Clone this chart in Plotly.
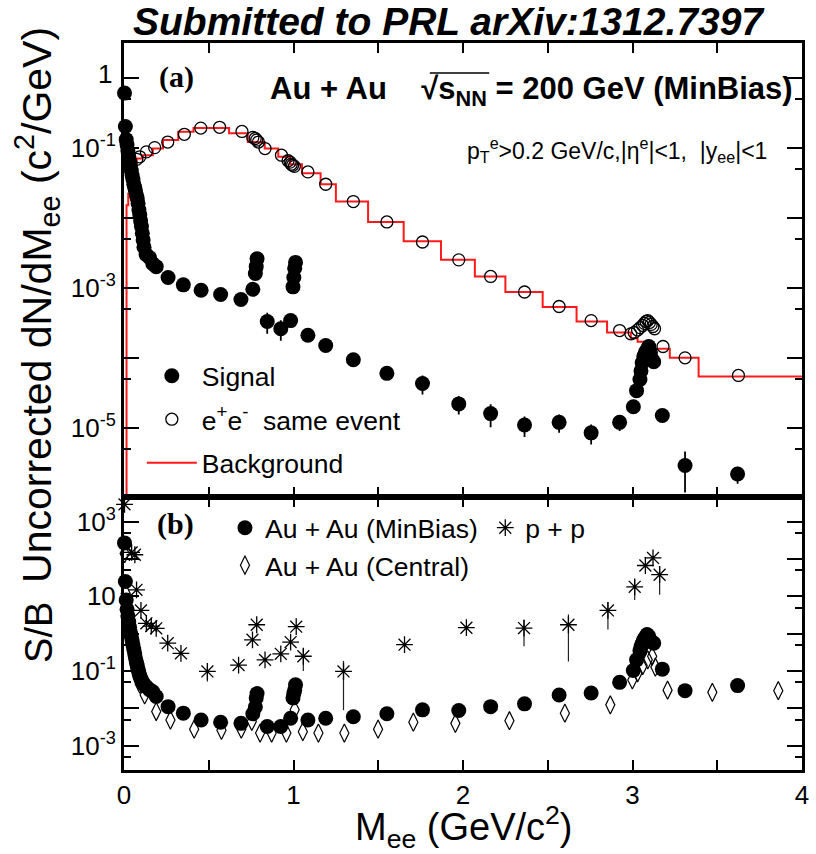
import plotly.graph_objects as go

# ---------------- data ----------------
# panel (a): signal (filled circles)
signal_mass = [0.003, 0.008, 0.013, 0.018, 0.023, 0.028, 0.033, 0.038, 0.043, 0.048,
               0.053, 0.058, 0.063, 0.068, 0.073, 0.078, 0.083, 0.088, 0.093, 0.098,
               0.103, 0.108, 0.113, 0.118, 0.13, 0.15, 0.17, 0.19, 0.26, 0.35,
               0.455, 0.57, 0.69, 0.76, 0.775, 0.78, 0.785, 0.845, 0.925, 0.983,
               0.997, 1.002, 1.007, 1.012, 1.085, 1.19, 1.353, 1.551, 1.761, 1.975,
               2.163, 2.363, 2.567, 2.756, 2.924, 3.005, 3.024, 3.044, 3.05, 3.057,
               3.067, 3.076, 3.086, 3.096, 3.106, 3.115, 3.125, 3.176, 3.31, 3.62]
signal_yield = [0.6, 0.2, 0.13, 0.11, 0.09, 0.075, 0.065, 0.055, 0.047, 0.04,
                0.035, 0.03, 0.027, 0.024, 0.021, 0.019, 0.016, 0.013, 0.011, 0.009,
                0.0075, 0.006, 0.0048, 0.0038, 0.003, 0.0027, 0.0022, 0.002, 0.0014, 0.0011,
                9.2e-4, 8e-4, 6.8e-4, 9.5e-4, 1.6e-3, 2.0e-3, 2.6e-3, 3.3e-4, 2.6e-4, 3.4e-4,
                1.03e-3, 1.4e-3, 1.9e-3, 2.3e-3, 2.1e-4, 1.5e-4, 9.4e-5, 6.0e-5, 4.3e-5, 2.2e-5,
                1.6e-5, 1.1e-5, 1.2e-5, 8.5e-6, 1.2e-5, 2.0e-5, 3.4e-5, 4.9e-5, 6.5e-5, 8.5e-5,
                1.05e-4, 1.2e-4, 1.3e-4, 1.45e-4, 1.2e-4, 9.5e-5, 8.8e-5, 1.5e-5, 2.9e-6, 2.2e-6]
signal_err = [0.0, 0.0, 0.0, 0.0, 0.0, 0.0, 0.0, 0.0, 0.0, 0.0,
              0.0, 0.0, 0.0, 0.0, 0.0, 0.0, 0.0, 0.0, 0.0, 0.0,
              0.0, 0.0, 0.0, 0.0, 0.0, 0.0, 0.0, 0.0, 0.0, 0.0,
              0.0, 0.0, 0.0, 0.0, 0.0, 0.0, 0.0, 1.1e-4, 8.5e-5, 6e-5,
              0.0, 0.0, 0.0, 0.0, 3e-5, 2.2e-5, 1.4e-5, 9e-6, 1.3e-5, 6.5e-6,
              5.8e-6, 3.6e-6, 3.5e-6, 2.7e-6, 3e-6, 3e-6, 3e-6, 4e-6, 5e-6, 6e-6,
              7e-6, 8e-6, 8e-6, 9e-6, 8e-6, 7e-6, 7e-6, 3e-6, 1.7e-6, 6e-7]

# panel (a): e+e- same event (open circles)
same_mass = [0.075, 0.093, 0.132, 0.181, 0.258, 0.356, 0.453, 0.564, 0.696, 0.76,
             0.774, 0.783, 0.793, 0.832, 0.929, 0.968, 0.98, 0.987, 0.995, 1.005,
             1.085, 1.19, 1.353, 1.551, 1.761, 1.975, 2.163, 2.363, 2.567, 2.756,
             2.924, 2.99, 3.01, 3.03, 3.045, 3.06, 3.07, 3.08, 3.09, 3.1,
             3.11, 3.12, 3.13, 3.18, 3.31, 3.625]
same_yield = [0.068, 0.074, 0.087, 0.10, 0.12, 0.155, 0.19, 0.195, 0.17, 0.14,
              0.135, 0.128, 0.12, 0.097, 0.078, 0.065, 0.062, 0.058, 0.056, 0.054,
              0.045, 0.030, 0.017, 0.0087, 0.0045, 0.0025, 0.00145, 8.7e-4, 5.4e-4, 3.4e-4,
              2.45e-4, 2.2e-4, 2.3e-4, 2.5e-4, 2.7e-4, 2.9e-4, 3.1e-4, 3.3e-4, 3.4e-4, 3.2e-4,
              3.0e-4, 2.8e-4, 2.6e-4, 1.45e-4, 1.0e-4, 5.6e-5]

# panel (a): background histogram (bin edges and contents)
bg_edges = [0, 0.015, 0.025, 0.035, 0.05, 0.075, 0.11, 0.17, 0.23, 0.32,
            0.41, 0.62, 0.73, 0.83, 0.91, 0.98, 1.05, 1.16, 1.25, 1.44,
            1.65, 1.87, 2.07, 2.25, 2.47, 2.67, 2.85, 2.99, 3.03, 3.08,
            3.12, 3.22, 3.39, 4.0]
bg_content = [1e-7, 0.015, 0.022, 0.05, 0.06, 0.07, 0.078, 0.097, 0.128, 0.168,
              0.19, 0.16, 0.12, 0.097, 0.074, 0.058, 0.043, 0.030, 0.017, 8.7e-3,
              4.6e-3, 2.5e-3, 1.45e-3, 8.7e-4, 5.3e-4, 3.3e-4, 2.3e-4, 1.9e-4, 1.7e-4, 1.5e-4,
              1.35e-4, 1.0e-4, 5.4e-5]

# panel (b): S/B Au+Au MinBias (same mass bins as the signal)
sb_minbias = [270, 25, 8, 4.5, 3, 2.1, 1.5, 1.1, 0.85, 0.65,
              0.5, 0.38, 0.29, 0.22, 0.17, 0.14, 0.11, 0.09, 0.075, 0.065,
              0.058, 0.052, 0.047, 0.043, 0.039, 0.032, 0.028, 0.021, 0.0112, 0.0075,
              0.0049, 0.0043, 0.0040, 0.0072, 0.011, 0.019, 0.025, 0.0033, 0.0033, 0.0055,
              0.019, 0.025, 0.031, 0.043, 0.0049, 0.0055, 0.006, 0.0072, 0.0092, 0.0088,
              0.0112, 0.0133, 0.023, 0.026, 0.05, 0.104, 0.2, 0.35, 0.45, 0.55,
              0.7, 0.8, 0.95, 0.85, 0.65, 0.6, 0.56, 0.113, 0.030, 0.041]

# panel (b): S/B Au+Au Central (open diamonds)
central_mass = [0.004, 0.01, 0.02, 0.03, 0.05, 0.07, 0.093, 0.122, 0.19, 0.274,
                0.414, 0.575, 0.692, 0.754, 0.803, 0.871, 0.958, 1.007, 1.055, 1.147,
                1.3, 1.499, 1.707, 1.955, 2.274, 2.601, 2.869, 2.999, 3.03, 3.06,
                3.09, 3.116, 3.135, 3.207, 3.471, 3.86]
sb_central = [140, 12, 2.5, 1.1, 0.35, 0.12, 0.045, 0.023, 0.0083, 0.0049,
              0.0028, 0.0026, 0.0028, 0.0045, 0.0022, 0.0022, 0.0022, 0.0092, 0.0024, 0.0022,
              0.0022, 0.0028, 0.0043, 0.0040, 0.0047, 0.0075, 0.0125, 0.058, 0.09, 0.14,
              0.2, 0.25, 0.128, 0.031, 0.027, 0.030]

# panel (b): S/B p+p (asterisks) with errors
pp_mass = [0.003, 0.045, 0.064, 0.074, 0.100, 0.132, 0.161, 0.19, 0.258, 0.336,
           0.492, 0.676, 0.758, 0.783, 0.832, 0.925, 0.983, 1.016, 1.058, 1.295,
           1.655, 2.02, 2.36, 2.622, 2.855, 3.013, 3.076, 3.121, 3.16]
sb_pp = [2900, 150, 130, 15, 4.2, 1.9, 1.6, 1.4, 0.56, 0.30,
         0.098, 0.145, 0.69, 1.74, 0.2, 0.29, 0.6, 1.55, 0.25, 0.098,
         0.51, 1.45, 1.42, 1.74, 4.2, 18, 67, 107, 38]
sb_pp_err = [0, 0, 0, 0, 0, 0, 0, 0, 0, 0,
             0.045, 0, 0, 0, 0, 0, 0, 0, 0.15, 0.089,
             0.1, 0.2, 0.96, 1.56, 2.9, 10, 0, 0, 27]

x_tick_vals = [0, 0.5, 1, 1.5, 2, 2.5, 3, 3.5, 4]
x_tick_text = ["0", "", "1", "", "2", "", "3", "", "4"]
ya_tick_vals = [1, 0.1, 0.01, 1e-3, 1e-4, 1e-5, 1e-6]
ya_tick_text = ["", "10<sup>-1</sup>", "", "10<sup>-3</sup>", "", "10<sup>-5</sup>", ""]
ya_top_label = "1"
ya_minor_vals = [0.5, 0.05, 0.005, 5e-4, 5e-5, 5e-6]
yb_tick_vals = [1e3, 1e2, 10, 1, 0.1, 0.01, 1e-3]
yb_tick_text = ["10<sup>3</sup>", "", "10", "", "10<sup>-1</sup>", "", "10<sup>-3</sup>"]
yb_minor_vals = [500, 50, 5, 0.5, 0.05, 5e-3, 5e-4]

# ---------------- layout geometry ----------------
W, H = 816, 854
L, R, T, B = 124, 7, 43, 84
PW, PH = W - L - R, H - T - B
SPLIT = (H - B - 496.5) / PH


def px(x):
    return (x - L) / PW


def py(y):
    return (H - B - y) / PH


FONT = "Liberation Sans, Arial, Helvetica, sans-serif"
LEG = 26.5

fig = go.Figure()

# background histogram (drawn first so markers sit on top)
fig.add_trace(go.Scatter(
    x=bg_edges, y=bg_content + [bg_content[-1]], mode="lines",
    line=dict(color="#ff1a1a", width=2, shape="hv"),
    name="Background", legendgroup="bg", legendrank=3,
    xaxis="x", yaxis="y", legend="legend"))

fig.add_trace(go.Scatter(
    x=same_mass, y=same_yield, mode="markers",
    marker=dict(symbol="circle-open", size=12, color="black", line=dict(width=1.3, color="black")),
    name="e<sup>+</sup>e<sup>-</sup>\u00a0\u00a0same event", legendgroup="se", legendrank=2,
    xaxis="x", yaxis="y", legend="legend", cliponaxis=False))

fig.add_trace(go.Scatter(
    x=signal_mass, y=signal_yield, mode="markers",
    marker=dict(symbol="circle", size=15, color="black"),
    error_y=dict(type="data", array=signal_err, visible=True, color="black", thickness=1.8, width=0),
    name="Signal", legendgroup="sig", legendrank=1,
    xaxis="x", yaxis="y", legend="legend", cliponaxis=False))

# panel (b)
fig.add_trace(go.Scatter(
    x=pp_mass, y=sb_pp, mode="markers",
    marker=dict(symbol="asterisk-open", size=14, color="black", line=dict(width=1.3, color="black")),
    error_y=dict(type="data", array=sb_pp_err, visible=True, color="#222222", thickness=1.2, width=0),
    name="p + p", legendgroup="pp",
    xaxis="x2", yaxis="y2", legend="legend3", cliponaxis=False))

fig.add_trace(go.Scatter(
    x=central_mass, y=sb_central, mode="markers",
    marker=dict(symbol="diamond-tall-open", size=13, color="black", line=dict(width=1.2, color="black")),
    name="Au + Au (Central)", legendgroup="ce", legendrank=2,
    xaxis="x2", yaxis="y2", legend="legend2", cliponaxis=False))

fig.add_trace(go.Scatter(
    x=signal_mass, y=sb_minbias, mode="markers",
    marker=dict(symbol="circle", size=15, color="black"),
    name="Au + Au (MinBias)", legendgroup="mb", legendrank=1,
    xaxis="x2", yaxis="y2", legend="legend2", cliponaxis=False))

axis_common = dict(showline=True, linecolor="black", linewidth=3, mirror="allticks",
                   ticks="inside", tickcolor="black", showgrid=False, zeroline=False,
                   tickfont=dict(family=FONT, size=26, color="black"))

fig.update_layout(
    width=W, height=H,
    margin=dict(l=L, r=R, t=T, b=B),
    paper_bgcolor="white", plot_bgcolor="white",
    font=dict(family=FONT, color="black"),
    xaxis=dict(domain=[0, 1], anchor="y", range=[0, 4], tickmode="array",
               tickvals=x_tick_vals, ticktext=x_tick_text, showticklabels=False,
               ticklen=10, tickwidth=1.5, **axis_common),
    yaxis=dict(domain=[SPLIT, 1], anchor="x", type="log", range=[-5.979, 0.493],
               tickmode="array", tickvals=ya_tick_vals, ticktext=ya_tick_text,
               ticklen=15, tickwidth=1.5,
               minor=dict(tickvals=ya_minor_vals, ticklen=7, tickwidth=1.5, ticks="inside",
                          tickcolor="black", showgrid=False),
               **axis_common),
    xaxis2=dict(domain=[0, 1], anchor="y2", range=[0, 4], tickmode="array",
                tickvals=x_tick_vals, ticktext=x_tick_text,
                ticklen=10, tickwidth=1.5, **axis_common),
    yaxis2=dict(domain=[0, SPLIT], anchor="x2", type="log", range=[-3.646, 3.673],
                tickmode="array", tickvals=yb_tick_vals, ticktext=yb_tick_text,
                ticklen=15, tickwidth=1.5,
                minor=dict(tickvals=yb_minor_vals, ticklen=7, tickwidth=1.5, ticks="inside",
                           tickcolor="black", showgrid=False),
                **axis_common),
    legend=dict(x=px(142), y=py(352), xanchor="left", yanchor="top", itemwidth=50,
                bgcolor="rgba(0,0,0,0)", borderwidth=0, traceorder="grouped",
                tracegroupgap=6, font=dict(family=FONT, size=LEG, color="black")),
    legend2=dict(x=px(226), y=py(504), xanchor="left", yanchor="top",
                 bgcolor="rgba(0,0,0,0)", borderwidth=0, traceorder="grouped",
                 tracegroupgap=0, font=dict(family=FONT, size=LEG, color="black")),
    legend3=dict(x=px(489), y=py(504), xanchor="left", yanchor="top",
                 bgcolor="rgba(0,0,0,0)", borderwidth=0,
                 font=dict(family=FONT, size=LEG, color="black")),
    showlegend=True,
)

ann = [
    dict(text="<b><i>Submitted to PRL arXiv:1312.7397</i></b>", x=px(452), y=py(21),
         font=dict(size=39, family=FONT)),
    dict(text=ya_top_label, x=px(114), y=py(74), xanchor="right",
         font=dict(size=26, family=FONT)),
    dict(text="<b>(a)</b>", x=px(177), y=py(77),
         font=dict(size=30, family="Liberation Serif, Times New Roman, serif")),
    dict(text="<b>(b)</b>", x=px(176), y=py(524),
         font=dict(size=30, family="Liberation Serif, Times New Roman, serif")),
    dict(text="<b>Au + Au\u00a0\u00a0\u00a0\u00a0\u221As<sub>NN</sub> = 200 GeV (MinBias)</b>",
         x=px(802), y=py(91), xanchor="right", font=dict(size=31, family=FONT)),
    dict(text="p<sub>T</sub><sup>e</sup>&gt;0.2 GeV/c,|\u03b7<sup>e</sup>|&lt;1,\u00a0\u00a0|y<sub>ee</sub>|&lt;1",
         x=px(776), y=py(150), xanchor="right", font=dict(size=23, family=FONT)),
    dict(text="Uncorrected dN/dM<sub>ee</sub> (c<sup>2</sup>/GeV)", x=px(36), y=py(305),
         textangle=-90, font=dict(size=41, family=FONT)),
    dict(text="S/B", x=px(38), y=py(632), textangle=-90, font=dict(size=38, family=FONT)),
    dict(text="M<sub>ee</sub> (GeV/c<sup>2</sup>)", x=px(468), y=py(827),
         font=dict(size=38, family=FONT)),
]
for a in ann:
    a.update(xref="paper", yref="paper", showarrow=False)
    a.setdefault("xanchor", "center")
    a.setdefault("yanchor", "middle")
    fig.add_annotation(**a)

# overline of the square-root sign over s_NN
fig.add_shape(type="line", xref="paper", yref="paper",
              x0=px(433), x1=px(493), y0=py(73), y1=py(73),
              line=dict(color="black", width=1.5))

fig.write_html("out.html", config={"displayModeBar": False},
               post_script="document.body.style.margin='0px';document.body.style.overflow='hidden';")
